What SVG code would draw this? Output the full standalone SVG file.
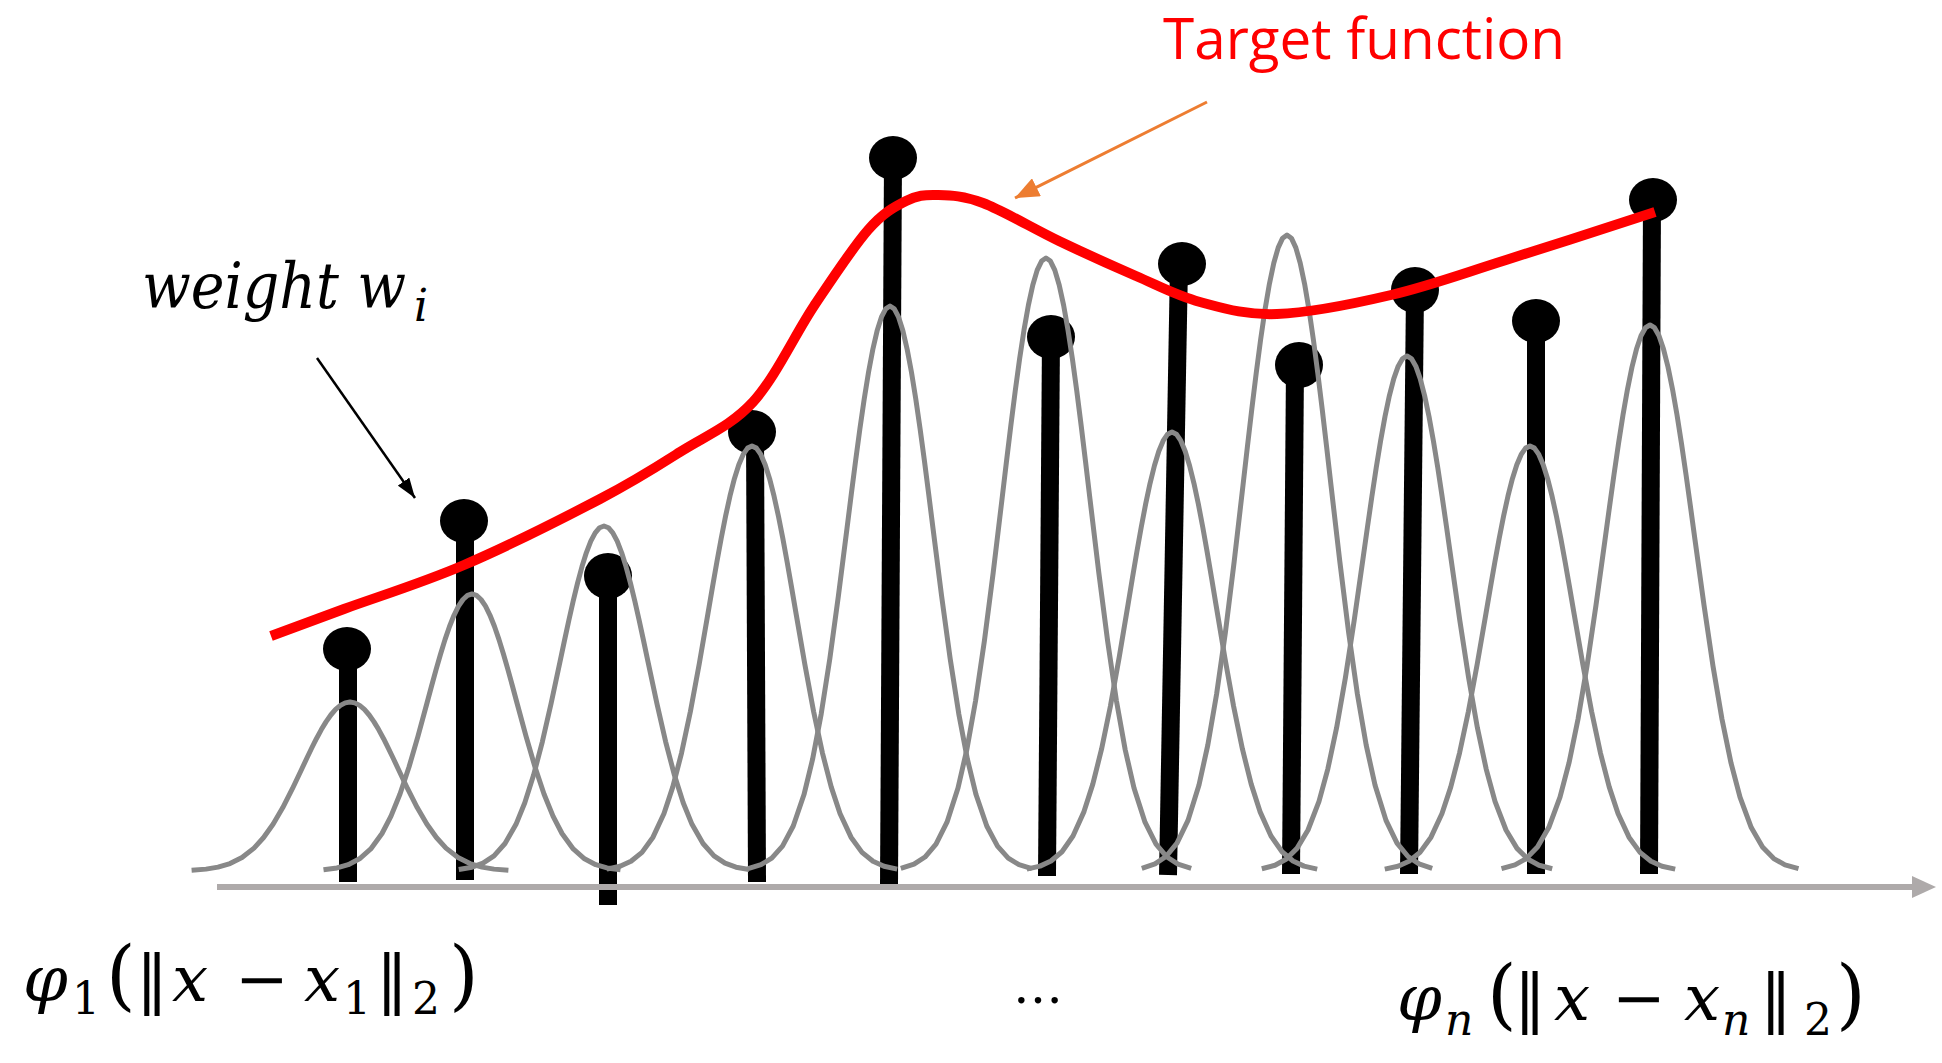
<svg xmlns="http://www.w3.org/2000/svg" width="1942" height="1063" viewBox="0 0 1942 1063">
<defs>
<style>
.stem{stroke:#000;stroke-width:18;stroke-linecap:butt}
.dot{fill:#000}
.math{font-family:"DejaVu Serif","Liberation Serif",serif;font-style:italic;fill:#000}
.up{font-style:normal}
.sub{font-size:44px}
.par{font-size:76px;font-style:normal}
</style>
<path id="gauss" fill="none" stroke="#888888" stroke-width="5" stroke-linejoin="round" vector-effect="non-scaling-stroke" d="M-3.3,-0.0043 L-3,-0.0111 L-2.75,-0.0228 L-2.5,-0.0439 L-2.25,-0.0796 L-2,-0.1353 L-1.8,-0.1979 L-1.6,-0.2780 L-1.4,-0.3753 L-1.2,-0.4868 L-1,-0.6065 L-0.9,-0.6670 L-0.8,-0.7262 L-0.7,-0.7827 L-0.6,-0.8353 L-0.5,-0.8825 L-0.4,-0.9231 L-0.3,-0.9560 L-0.2,-0.9802 L-0.1,-0.9950 L0,-1 L0.1,-0.9950 L0.2,-0.9802 L0.3,-0.9560 L0.4,-0.9231 L0.5,-0.8825 L0.6,-0.8353 L0.7,-0.7827 L0.8,-0.7262 L0.9,-0.6670 L1,-0.6065 L1.2,-0.4868 L1.4,-0.3753 L1.6,-0.2780 L1.8,-0.1979 L2,-0.1353 L2.25,-0.0796 L2.5,-0.0439 L2.75,-0.0228 L3,-0.0111 L3.3,-0.0043"/>
<marker id="arrBlack" markerUnits="userSpaceOnUse" viewBox="0 0 20 14" refX="20" refY="7" markerWidth="20" markerHeight="14" orient="auto">
<path d="M0,0 L20,7 L0,14 z" fill="#000"/>
</marker>
<marker id="arrOrange" markerUnits="userSpaceOnUse" viewBox="0 0 24 20" refX="24" refY="10" markerWidth="24" markerHeight="20" orient="auto">
<path d="M0,0 L24,10 L0,20 z" fill="#ed7d31"/>
</marker>
</defs>
<rect width="1942" height="1063" fill="#fff"/>

<g id="stems">
<g id="w1"><line class="stem" x1="348" y1="649" x2="348" y2="882"/><ellipse class="dot" cx="347" cy="649" rx="24" ry="22"/></g>
<g id="w2"><line class="stem" x1="465" y1="521" x2="465" y2="880"/><ellipse class="dot" cx="464" cy="521" rx="24" ry="22"/></g>
<g id="w3"><line class="stem" x1="608" y1="576" x2="608" y2="905"/><ellipse class="dot" cx="608" cy="576" rx="24" ry="23"/></g>
<g id="w4"><line class="stem" x1="755" y1="432" x2="757" y2="882"/><ellipse class="dot" cx="752" cy="432" rx="24" ry="22"/></g>
<g id="w5"><line class="stem" x1="893" y1="158" x2="889" y2="886"/><ellipse class="dot" cx="893" cy="158" rx="24" ry="22"/></g>
<g id="w6"><line class="stem" x1="1051" y1="337" x2="1047" y2="876"/><ellipse class="dot" cx="1051" cy="337" rx="24" ry="22"/></g>
<g id="w7"><line class="stem" x1="1179" y1="264" x2="1168" y2="875"/><ellipse class="dot" cx="1182" cy="264" rx="24" ry="22"/></g>
<g id="w8"><line class="stem" x1="1295" y1="365" x2="1291" y2="874"/><ellipse class="dot" cx="1299" cy="365" rx="24" ry="23"/></g>
<g id="w9"><line class="stem" x1="1415" y1="290" x2="1409" y2="874"/><ellipse class="dot" cx="1415" cy="290" rx="24" ry="23"/></g>
<g id="w10"><line class="stem" x1="1536" y1="321" x2="1536" y2="874"/><ellipse class="dot" cx="1536" cy="321" rx="24" ry="22"/></g>
<g id="w11"><line class="stem" x1="1652" y1="200" x2="1649" y2="874"/><ellipse class="dot" cx="1653" cy="200" rx="24" ry="22"/></g>
</g>

<g id="basis-functions">
<use href="#gauss" transform="translate(350,871) scale(48,169)"/>
<use href="#gauss" transform="translate(472,871) scale(45,277)"/>
<use href="#gauss" transform="translate(604,871) scale(44,345)"/>
<use href="#gauss" transform="translate(752,871) scale(44,425)"/>
<use href="#gauss" transform="translate(890,871) scale(43,565)"/>
<use href="#gauss" transform="translate(1046,871) scale(44,613)"/>
<use href="#gauss" transform="translate(1172,871) scale(44,439)"/>
<use href="#gauss" transform="translate(1287,871) scale(44,636)"/>
<use href="#gauss" transform="translate(1407,871) scale(44,515)"/>
<use href="#gauss" transform="translate(1530,871) scale(44,425)"/>
<use href="#gauss" transform="translate(1650,871) scale(45,546)"/>
</g>

<g id="axis">
<line x1="217" y1="887" x2="1916" y2="887" stroke="#aeaaaa" stroke-width="6"/>
<polygon points="1936,887 1912,876 1912,898" fill="#aeaaaa"/>
</g>

<g id="target-curve">
<path fill="none" stroke="#ff0000" stroke-width="10" stroke-linecap="butt" d="M271,636 C283.2,631.5 311.8,620.8 344,609 C376.2,597.2 421.3,583.3 464,565 C506.7,546.7 564,517.8 600,499 C636,480.2 654.5,468.2 680,452 C705.5,435.8 730.7,426.3 753,402 C775.3,377.7 794.8,334.7 814,306 C833.2,277.3 852.7,247.5 868,230 C883.3,212.5 894.5,206.8 906,201 C917.5,195.2 924.2,194.7 937,195 C949.8,195.3 962.7,195.3 983,203 C1003.3,210.7 1033.5,228.8 1059,241 C1084.5,253.2 1112.5,265.8 1136,276 C1159.5,286.2 1176.5,295.7 1200,302 C1223.5,308.3 1245.2,315.2 1277,314 C1308.8,312.8 1352.8,304 1391,295 C1429.2,286 1462,273.8 1506,260 C1550,246.2 1630.2,220 1655,212"/>
</g>

<g id="connectors">
<line x1="317" y1="358" x2="415" y2="498" stroke="#000" stroke-width="2.5" marker-end="url(#arrBlack)"/>
<line x1="1207" y1="102" x2="1015" y2="198" stroke="#ed7d31" stroke-width="3" marker-end="url(#arrOrange)"/>
</g>

<g id="labels">
<text x="1163" y="59" font-family="'Liberation Sans Narrow','Open Sans',sans-serif" font-size="56" fill="#ff0000" textLength="402" lengthAdjust="spacingAndGlyphs">Target function</text>
<text class="math" x="142" y="308" font-size="64"><tspan textLength="264" lengthAdjust="spacingAndGlyphs">weight w</tspan><tspan x="414" y="321" class="sub">i</tspan></text>
<text class="math" y="1001" font-size="64"><tspan x="23">φ</tspan><tspan x="72" y="1014" class="sub up">1</tspan><tspan x="106" y="1001" class="par">(</tspan><tspan x="136" class="up">‖</tspan><tspan x="172">x</tspan><tspan x="235" class="up">−</tspan><tspan x="304">x</tspan><tspan x="343" y="1014" class="sub up">1</tspan><tspan x="376" y="1001" class="up">‖</tspan><tspan x="412" y="1014" class="sub up">2</tspan><tspan x="449" y="1001" class="par">)</tspan></text>
<text class="math up" x="1013" y="1003" font-size="50" textLength="50" lengthAdjust="spacingAndGlyphs">…</text>
<text class="math" y="1020" font-size="64"><tspan x="1397">φ</tspan><tspan x="1445" y="1035" class="sub">n</tspan><tspan x="1487" y="1020" class="par">(</tspan><tspan x="1514" class="up">‖</tspan><tspan x="1554">x</tspan><tspan x="1612" class="up">−</tspan><tspan x="1684">x</tspan><tspan x="1722" y="1035" class="sub">n</tspan><tspan x="1760" y="1020" class="up">‖</tspan><tspan x="1804" y="1035" class="sub up">2</tspan><tspan x="1836" y="1020" class="par">)</tspan></text>
</g>
</svg>
